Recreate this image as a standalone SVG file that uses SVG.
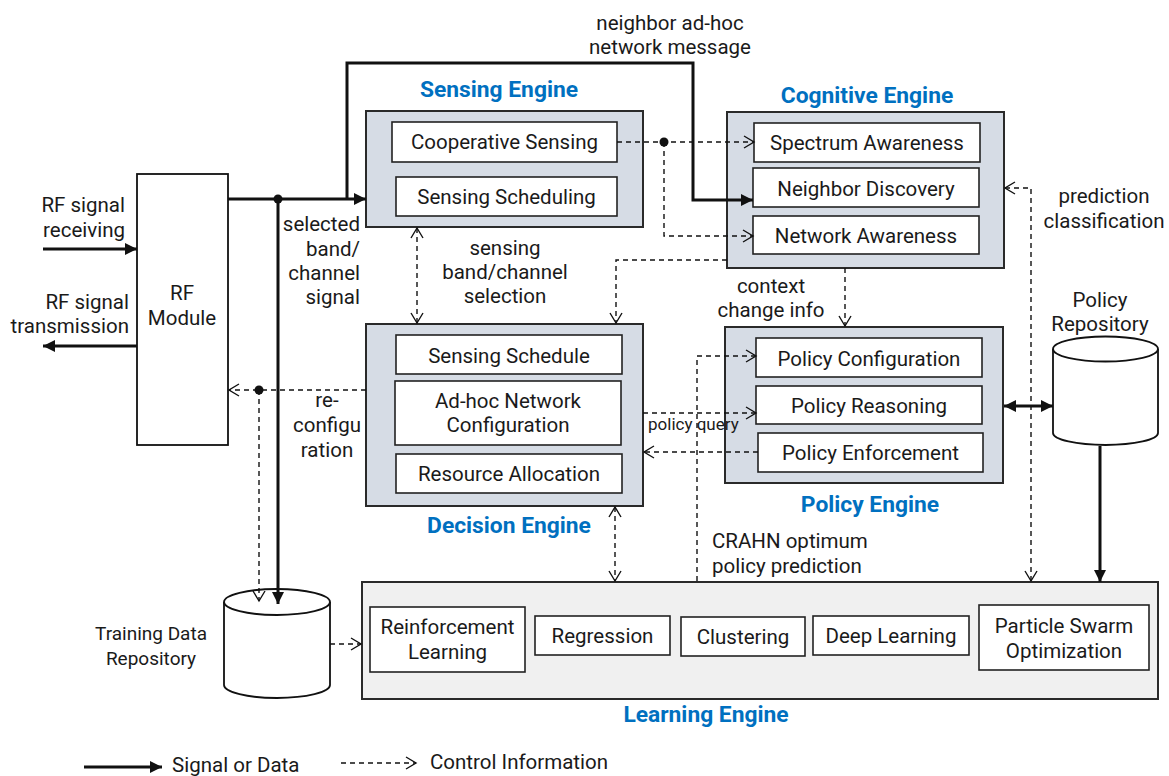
<svg xmlns="http://www.w3.org/2000/svg" width="1169" height="776" viewBox="0 0 1169 776">
<defs>
<style>
text{font-family:Roboto,"Noto Sans","DejaVu Sans",sans-serif;font-size:20.5px;fill:#1a1a1a}
.c{text-anchor:middle}
.r{text-anchor:end}
.t{font-weight:bold;fill:#0070c0;font-size:22.8px;text-anchor:middle}
.eng{fill:#d6dce5;stroke:#2a2a2a;stroke-width:2}
.lrn{fill:#f0f0f0;stroke:#2a2a2a;stroke-width:2}
.box{fill:#ffffff;stroke:#222;stroke-width:1.6}
.plain{fill:#ffffff;stroke:#111;stroke-width:1.8}
.thick{fill:none;stroke:#111;stroke-width:3}
.dash{fill:none;stroke:#111;stroke-width:1.4;stroke-dasharray:5 4}
.dot{fill:#111}
</style>
<marker id="fa" markerUnits="userSpaceOnUse" markerWidth="14" markerHeight="12" refX="12" refY="6" orient="auto-start-reverse" overflow="visible">
<path d="M0,0 L12,6 L0,12 z" fill="#111" stroke="none"/>
</marker>
<marker id="oa" markerUnits="userSpaceOnUse" markerWidth="14" markerHeight="14" refX="11" refY="7" orient="auto-start-reverse" overflow="visible">
<path d="M1,1 L11,7 L1,13" fill="none" stroke="#111" stroke-width="1.4" stroke-dasharray="none"/>
</marker>
</defs>

<g id="rf-module">
<rect class="plain" x="137" y="174" width="91" height="271"/>
<text class="c" x="182" y="300">RF<tspan x="182" y="325">Module</tspan></text>
</g>

<g id="sensing-engine">
<text class="t" x="499" y="97">Sensing Engine</text>
<rect class="eng" x="366" y="111" width="277" height="116"/>
<g id="cooperative-sensing"><rect class="box" x="392" y="122" width="225" height="40"/><text class="c" x="504.5" y="149">Cooperative Sensing</text></g>
<g id="sensing-scheduling"><rect class="box" x="396" y="177" width="221" height="39"/><text class="c" x="506.5" y="204">Sensing Scheduling</text></g>
</g>

<g id="cognitive-engine">
<text class="t" x="867" y="103">Cognitive Engine</text>
<rect class="eng" x="727" y="112" width="277" height="156"/>
<g id="spectrum-awareness"><rect class="box" x="754" y="123" width="226" height="39"/><text class="c" x="867" y="150">Spectrum Awareness</text></g>
<g id="neighbor-discovery"><rect class="box" x="753" y="168" width="226" height="39"/><text class="c" x="866" y="196">Neighbor Discovery</text></g>
<g id="network-awareness"><rect class="box" x="753" y="216" width="226" height="38"/><text class="c" x="866" y="243">Network Awareness</text></g>
</g>

<g id="decision-engine">
<rect class="eng" x="366" y="324" width="277" height="182"/>
<g id="sensing-schedule"><rect class="box" x="396" y="335" width="226" height="39"/><text class="c" x="509" y="363">Sensing Schedule</text></g>
<g id="adhoc-network-configuration"><rect class="box" x="395" y="381" width="226" height="64"/><text class="c" x="508" y="408">Ad-hoc Network<tspan x="508" y="432">Configuration</tspan></text></g>
<g id="resource-allocation"><rect class="box" x="396" y="454" width="226" height="39"/><text class="c" x="509" y="481">Resource Allocation</text></g>
<text class="t" x="509" y="533">Decision Engine</text>
</g>

<g id="policy-engine">
<rect class="eng" x="725" y="327" width="278" height="156"/>
<g id="policy-configuration"><rect class="box" x="756" y="338" width="226" height="39"/><text class="c" x="869" y="366">Policy Configuration</text></g>
<g id="policy-reasoning"><rect class="box" x="756" y="386" width="226" height="38"/><text class="c" x="869" y="413">Policy Reasoning</text></g>
<g id="policy-enforcement"><rect class="box" x="758" y="433" width="225" height="39"/><text class="c" x="870.5" y="460">Policy Enforcement</text></g>
<text class="t" x="870" y="512">Policy Engine</text>
</g>

<g id="policy-repository">
<text class="c" x="1100" y="307">Policy<tspan x="1100" y="331">Repository</tspan></text>
<path class="plain" d="M1053,349 V433 A52.5,12 0 0 0 1158,433 V349"/>
<ellipse class="plain" cx="1105.5" cy="349" rx="52.5" ry="12.5"/>
</g>

<g id="training-data-repository">
<text class="c" x="151" y="640" style="font-size:19px">Training Data<tspan x="151" y="665">Repository</tspan></text>
<path class="plain" d="M224,602 V685 A53,13 0 0 0 330,685 V602"/>
<ellipse class="plain" cx="277" cy="602" rx="53" ry="13"/>
</g>

<g id="learning-engine">
<rect class="lrn" x="362" y="582" width="796" height="117"/>
<g id="reinforcement-learning"><rect class="box" x="370" y="607" width="155" height="65"/><text class="c" x="447.5" y="634">Reinforcement<tspan x="447.5" y="659">Learning</tspan></text></g>
<g id="regression"><rect class="box" x="535" y="616" width="135" height="39"/><text class="c" x="602.5" y="643">Regression</text></g>
<g id="clustering"><rect class="box" x="681" y="617" width="124" height="39"/><text class="c" x="743" y="644">Clustering</text></g>
<g id="deep-learning"><rect class="box" x="813" y="616" width="156" height="39"/><text class="c" x="891" y="643">Deep Learning</text></g>
<g id="particle-swarm-optimization"><rect class="box" x="979" y="605" width="170" height="65"/><text class="c" x="1064" y="633">Particle Swarm<tspan x="1064" y="658">Optimization</tspan></text></g>
<text class="t" x="706" y="722">Learning Engine</text>
</g>

<g id="connectors">
<path class="thick" d="M43,249 H137" marker-end="url(#fa)"/>
<path class="thick" d="M137,346 H43" marker-end="url(#fa)"/>
<path class="thick" d="M228,199 H366" marker-end="url(#fa)"/>
<path class="thick" d="M347,199 V63 H693 V200 H753" marker-end="url(#fa)"/>
<path class="thick" d="M278,199 V604" marker-end="url(#fa)"/>
<circle class="dot" cx="278" cy="199" r="4.5"/>
<path class="dash" d="M366,390 H229" marker-end="url(#oa)"/>
<path class="dash" d="M259,390 V601" marker-end="url(#oa)"/>
<circle class="dot" cx="259" cy="390" r="4.5"/>
<path class="dash" d="M417,228 V323" marker-start="url(#oa)" marker-end="url(#oa)"/>
<path class="dash" d="M617,142 H754" marker-end="url(#oa)"/>
<path class="dash" d="M664,142 V236 H753" marker-end="url(#oa)"/>
<circle class="dot" cx="664" cy="142" r="4.5"/>
<path class="dash" d="M727,260 H616 V323" marker-end="url(#oa)"/>
<path class="dash" d="M845,268 V326" marker-end="url(#oa)"/>
<path class="dash" d="M643,413 H756" marker-end="url(#oa)"/>
<path class="dash" d="M758,452 H644" marker-end="url(#oa)"/>
<path class="dash" d="M697,581 V356 H756" marker-end="url(#oa)"/>
<path class="dash" d="M1005,188 H1031 V581" marker-start="url(#oa)" marker-end="url(#oa)"/>
<path class="thick" d="M1004,406 H1053" marker-start="url(#fa)" marker-end="url(#fa)"/>
<path class="thick" d="M1100,446 V582" marker-end="url(#fa)"/>
<path class="dash" d="M615,507 V581" marker-start="url(#oa)" marker-end="url(#oa)"/>
<path class="dash" d="M330,644 H361" marker-end="url(#oa)"/>
</g>

<g id="labels">
<text class="c" x="670" y="30">neighbor ad-hoc<tspan x="670" y="54">network message</tspan></text>
<text class="r" x="125" y="212">RF signal<tspan x="125" y="237">receiving</tspan></text>
<text class="r" x="129" y="309">RF signal<tspan x="129" y="333">transmission</tspan></text>
<text class="r" x="360" y="231">selected<tspan x="360" y="256">band/</tspan><tspan x="360" y="280">channel</tspan><tspan x="360" y="304">signal</tspan></text>
<text class="c" x="505" y="255">sensing<tspan x="505" y="279">band/channel</tspan><tspan x="505" y="303">selection</tspan></text>
<text class="c" x="771" y="293">context<tspan x="771" y="317">change info</tspan></text>
<text class="c" x="1104" y="203">prediction<tspan x="1104" y="228">classification</tspan></text>
<text class="c" x="327" y="407">re-<tspan x="327" y="432">configu</tspan><tspan x="327" y="457">ration</tspan></text>
<text x="648" y="430" style="font-size:17px">policy query</text>
<text x="712" y="548">CRAHN optimum<tspan x="712" y="573">policy prediction</tspan></text>
</g>

<g id="legend">
<path class="thick" d="M84,767 H162" marker-end="url(#fa)"/>
<text x="172" y="772">Signal or Data</text>
<path class="dash" d="M341,763 H416" marker-end="url(#oa)"/>
<text x="430" y="769">Control Information</text>
</g>
</svg>
